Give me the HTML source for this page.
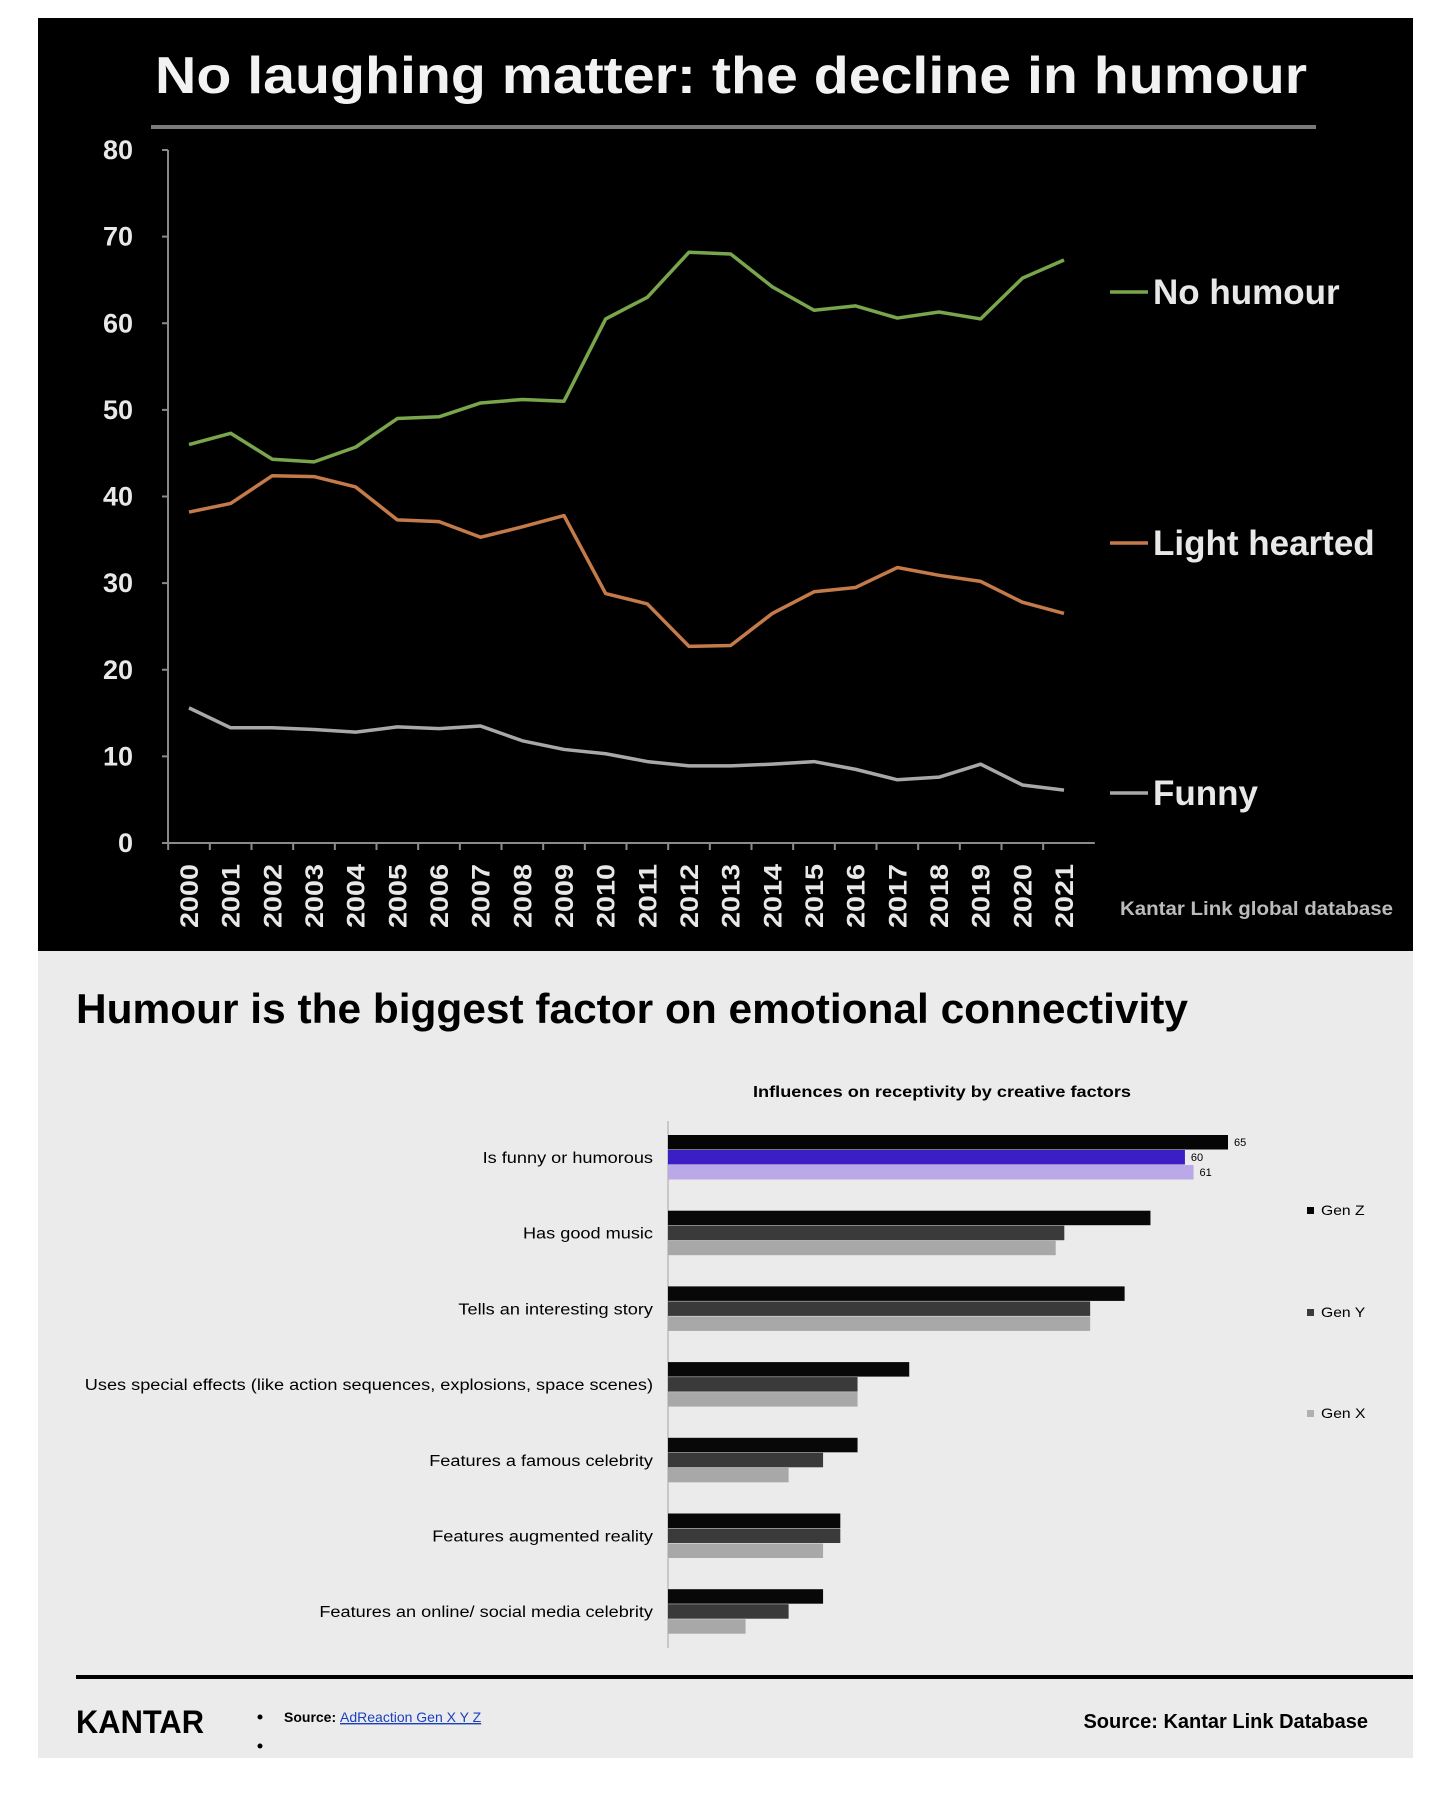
<!DOCTYPE html>
<html><head><meta charset="utf-8"><style>
html,body{margin:0;padding:0;background:#fff;}
svg{display:block;}
text{font-family:"Liberation Sans",Arial,sans-serif;}
</style></head><body>
<svg id="s" width="1456" height="1799" viewBox="0 0 1456 1799" xmlns="http://www.w3.org/2000/svg">
<rect x="0" y="0" width="1456" height="1799" fill="#ffffff"/>
<rect x="38" y="18" width="1375" height="933" fill="#000"/>
<rect x="38" y="951" width="1375" height="807" fill="#ebebeb"/>
<text x="155" y="93" font-size="52" font-weight="bold" fill="#f2f2f2" textLength="1152" lengthAdjust="spacingAndGlyphs">No laughing matter: the decline in humour</text>
<rect x="151" y="125" width="1165" height="4" fill="#7a7a7a"/>
<g id="lc"></g>
<text x="1120" y="915" font-size="19" font-weight="bold" fill="#bbb" textLength="273" lengthAdjust="spacingAndGlyphs">Kantar Link global  database</text>
<text x="76" y="1023" font-size="42" font-weight="bold" fill="#000" textLength="1112" lengthAdjust="spacingAndGlyphs">Humour is the biggest factor on emotional connectivity</text>
<text x="942" y="1097" font-size="16" font-weight="bold" fill="#000" text-anchor="middle" textLength="378" lengthAdjust="spacingAndGlyphs">Influences on receptivity by creative factors</text>
<g id="bc"></g>
<rect x="76" y="1675" width="1337" height="4" fill="#000"/>
<text x="76" y="1733" font-size="32" font-weight="bold" fill="#000" textLength="128" lengthAdjust="spacingAndGlyphs">KANTAR</text>
<circle cx="260" cy="1717" r="2.5" fill="#000"/>
<circle cx="260" cy="1746" r="2.5" fill="#000"/>
<text x="284" y="1722" font-size="14" fill="#000"><tspan font-weight="bold">Source: </tspan><tspan fill="#1a3fbf" text-decoration="underline">AdReaction Gen X Y Z</tspan></text>
<text x="1368" y="1728" font-size="20" font-weight="bold" fill="#000" text-anchor="end">Source: Kantar Link Database</text>
</svg>
<script>
const years=["2000","2001","2002","2003","2004","2005","2006","2007","2008","2009","2010","2011","2012","2013","2014","2015","2016","2017","2018","2019","2020","2021"];
const noHumour=[46,47.3,44.3,44,45.7,49,49.2,50.8,51.2,51,60.5,63,68.2,68,64.2,61.5,62,60.6,61.3,60.5,65.2,67.3];
const lightHearted=[38.2,39.2,42.4,42.3,41.1,37.3,37.1,35.3,36.5,37.8,28.8,27.6,22.7,22.8,26.5,29,29.5,31.8,30.9,30.2,27.8,26.5];
const funny=[15.6,13.3,13.3,13.1,12.8,13.4,13.2,13.5,11.8,10.8,10.3,9.4,8.9,8.9,9.1,9.4,8.5,7.3,7.6,9.1,6.7,6.1];
const yTicks=[0,10,20,30,40,50,60,70,80];
const seriesNames=["No humour","Light hearted","Funny"];
const factors=["Is funny or humorous","Has good music","Tells an interesting story","Uses special effects (like action sequences, explosions, space scenes)","Features a famous celebrity","Features augmented reality","Features an online/ social media celebrity"];
const genZ=[65,56,53,28,22,20,18];
const genY=[60,46,49,22,18,20,14];
const genX=[61,45,49,22,14,18,9];
const genNames=["Gen Z","Gen Y","Gen X"];
const NS="http://www.w3.org/2000/svg";
function mk(p,t,a){const e=document.createElementNS(NS,t);for(const k in a)e.setAttribute(k,a[k]);p.appendChild(e);return e;}
function widen(t,f){const w=t.getComputedTextLength();t.setAttribute('textLength',w*f);t.setAttribute('lengthAdjust','spacingAndGlyphs');}
// line chart
const lc=document.getElementById('lc');
const X0=189,X1=1064,Y0=843,Y1=150;
const xs=i=>X0+(X1-X0)*i/(years.length-1);
const ys=v=>Y0-(Y0-Y1)*v/80;
const step=(X1-X0)/(years.length-1);
let ax=mk(lc,'line',{x1:168,y1:Y1,x2:168,y2:Y0,stroke:'#8a8a8a','stroke-width':2});


let axx=mk(lc,'line',{x1:168,y1:Y0,x2:X1+step/2+10,y2:Y0,stroke:'#8a8a8a','stroke-width':2});


yTicks.forEach(v=>{
 const t=mk(lc,'text',{x:133,y:ys(v)+9,'font-size':27,'font-weight':'bold',fill:'#e8e8e8','text-anchor':'end'});t.textContent=v;
 
 
 mk(lc,'line',{x1:162,y1:ys(v),x2:168,y2:ys(v),stroke:'#8a8a8a','stroke-width':2});
});
years.forEach((y,i)=>{
 mk(lc,'line',{x1:xs(i)-step/2,y1:Y0,x2:xs(i)-step/2,y2:Y0+7,stroke:'#8a8a8a','stroke-width':2});
 const t=mk(lc,'text',{x:0,y:0,'font-size':25,'font-weight':'bold',fill:'#e8e8e8','text-anchor':'end',textLength:64,lengthAdjust:'spacingAndGlyphs',transform:`translate(${xs(i)+9},${864}) rotate(-90)`});t.textContent=y;
 
 
});
const sers=[noHumour,lightHearted,funny],cols=['#79a54d','#c57a4a','#a8a8a8'],keys=['no-humour','light-hearted','funny'];
sers.forEach((d,k)=>{
 const p=mk(lc,'polyline',{points:d.map((v,i)=>xs(i)+','+ys(v)).join(' '),fill:'none',stroke:cols[k],'stroke-width':3.5,'stroke-linejoin':'round'});
 
 
 const ly=[292,543,793][k];
 const g=mk(lc,'g',{});
 
 
 mk(g,'line',{x1:1110,y1:ly,x2:1148,y2:ly,stroke:cols[k],'stroke-width':3.5});
 const t=mk(g,'text',{x:1153,y:ly+12,'font-size':35,'font-weight':'bold',fill:'#e8e8e8'});t.textContent=seriesNames[k];
});
// bar chart
const bc=document.getElementById('bc');
const B0=668,BS=560/65,G0=1158,GS=75.7,BH=15;
const bx=v=>B0+v*BS;
let ba=mk(bc,'line',{x1:B0,y1:1121,x2:B0,y2:1648,stroke:'#c8c8c8','stroke-width':2});


const gens=[genZ,genY,genX];
factors.forEach((f,i)=>{
 const cy=G0+i*GS;
 const t=mk(bc,'text',{x:653,y:cy+5,'font-size':15.5,fill:'#000','text-anchor':'end'});t.textContent=f;
 
 
 widen(t,1.17);
 gens.forEach((d,k)=>{
  const col=i===0?['#050505','#3b1fc4','#bba8e6'][k]:['#080808','#3a3a3a','#a8a8a8'][k];
  const r=mk(bc,'rect',{x:B0,y:cy-23+k*BH,width:bx(d[i])-B0,height:BH-0.5,fill:col});
  
  
  if(i===0){
   const v=mk(bc,'text',{x:bx(d[i])+6,y:cy-23+k*BH+11,'font-size':11,fill:'#000'});v.textContent=d[i];
   
   
  }
 });
});
genNames.forEach((g,k)=>{
 const ly=[1215,1317,1418][k];
 const e=mk(bc,'g',{});
 
 
 mk(e,'rect',{x:1307,y:ly-8,width:7,height:7,fill:['#050505','#3a3a3a','#b0b0b0'][k]});
 const t=mk(e,'text',{x:1321,y:ly,'font-size':14,fill:'#000'});t.textContent=g;
 widen(t,1.12);
});
</script>
</body></html>
